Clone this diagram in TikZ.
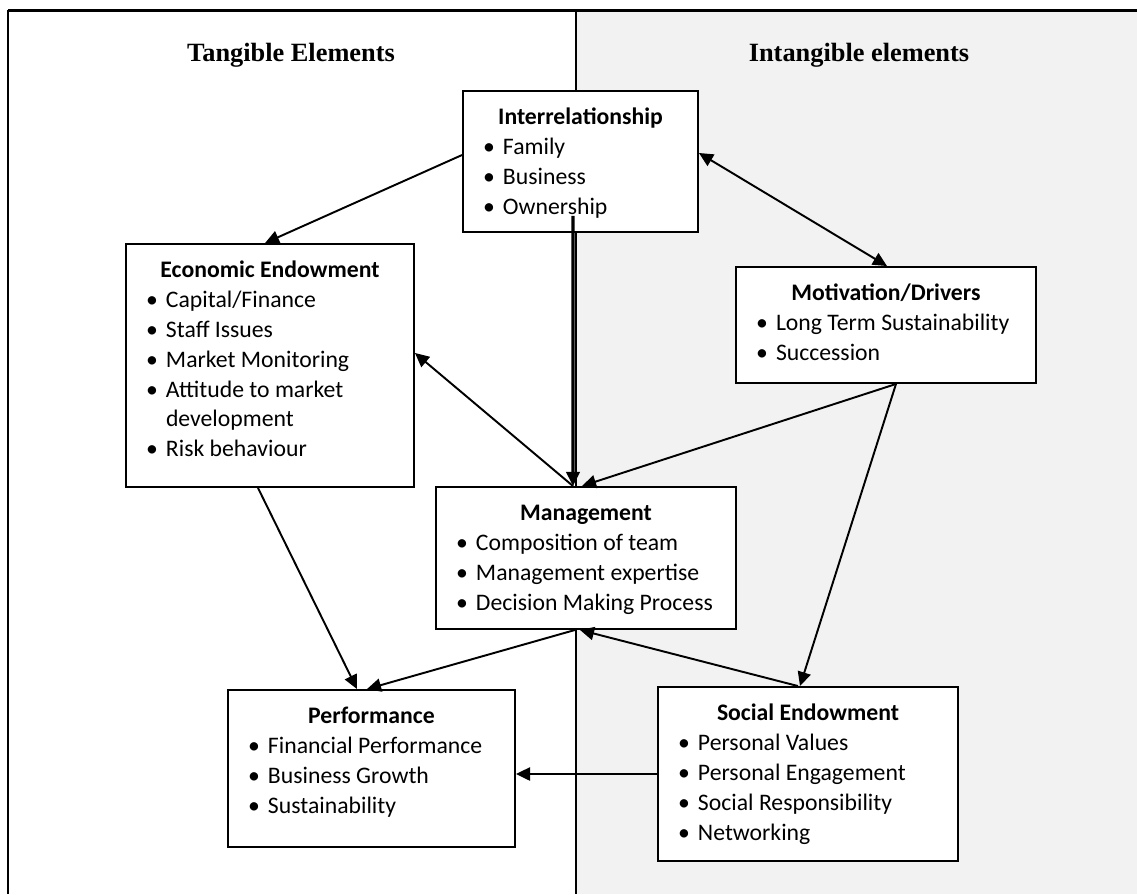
\documentclass[tikz,border=0pt]{standalone}
\usepackage{fontspec}
\setmainfont{Carlito}
\newfontfamily\hdrfont{Liberation Serif}
\usetikzlibrary{arrows.meta,positioning}
\newlength\px
\setlength\px{0.02cm}
\definecolor{bggray}{HTML}{F2F2F2}
\tikzset{font=\fontsize{13.5}{17.07}\selectfont}
\tikzset{factorbox/.style={draw, line width=1.1pt, fill=white, inner sep=0pt}}
\tikzset{link/.style={line width=1.1pt, -{Triangle[length=8pt,width=7.5pt]}}}
\tikzset{heading/.style={font=\hdrfont\bfseries\fontsize{15}{18}\selectfont}}

\newcommand{\factor}[4]{%
  \parbox[c][#2\px][t]{#1\px}{%
    \centering\rule{0pt}{18.8pt}\textbf{#3}\par
    \raggedright\leftskip=20\px #4}}
\newcommand{\itm}[1]{\par\hangindent=20\px\hangafter=1\noindent
  \makebox[20\px][l]{\textbullet}#1}

\begin{document}
\begin{tikzpicture}[x=0.02cm,y=-0.02cm]
  \useasboundingbox (0,0) rectangle (1137,894);
  \fill[bggray] (576,10) rectangle (1137,894);
  \draw[line width=0.6pt] (576,10)--(576,894);
  \draw[line width=1.7pt] (8,10)--(1137,10);
  \draw[line width=1.1pt] (8,10)--(8,894);

  \node[heading] (tang) at (291,55) {Tangible Elements};
  \node[heading] (intang) at (859,55) {Intangible elements};

  \node[factorbox] (interrel) at (580.5,161.5)
    {\factor{235}{141}{Interrelationship}{\itm{Family}\itm{Business}\itm{Ownership}}};
  \node[factorbox] (econ) at (270,365.5)
    {\factor{288}{243}{Economic Endowment}{\itm{Capital/Finance}\itm{Staff Issues}%
      \itm{Market Monitoring}\itm{Attitude to market\newline development}\itm{Risk behaviour}}};
  \node[factorbox] (motiv) at (886,325)
    {\factor{300}{116}{Motivation/Drivers}{\itm{Long Term Sustainability}\itm{Succession}}};
  \node[factorbox] (mgmt) at (586,558)
    {\factor{300}{142}{Management}{\itm{Composition of team}\itm{Management expertise}%
      \itm{Decision Making Process}}};
  \node[factorbox] (perf) at (371.5,768.5)
    {\factor{287}{157}{Performance}{\itm{Financial Performance}\itm{Business Growth}%
      \itm{Sustainability}}};
  \node[factorbox] (social) at (808,774)
    {\factor{300}{174}{Social Endowment}{\itm{Personal Values}\itm{Personal Engagement}%
      \itm{Social Responsibility}\itm{Networking}}};

  % links
  \draw[link] ([yshift=0.13cm]interrel.west) -- ([xshift=-0.1cm]econ.north);
  \draw[link,{Triangle[length=8pt,width=7.5pt]}-{Triangle[length=8pt,width=7.5pt]}]
    ([yshift=0.17cm]interrel.east) -- ([xshift=0.02cm]motiv.north);
  \draw[link,line width=1.8pt] ([xshift=-0.15cm,yshift=0.34cm]interrel.south) -- ([xshift=-0.26cm]mgmt.north);
  \draw[link] ([xshift=-0.26cm]mgmt.north) -- ([yshift=0.25cm]econ.east);
  \draw[link] ([xshift=0.2cm]motiv.south) -- ([xshift=-0.08cm]mgmt.north);
  \draw[link] ([xshift=0.2cm]motiv.south) -- ([xshift=-0.16cm]social.north);
  \draw[link] ([xshift=-0.24cm]econ.south) -- ([xshift=-0.29cm]perf.north);
  \draw[link] ([xshift=-0.22cm]mgmt.south) -- ([xshift=-0.09cm]perf.north);
  \draw[link] ([xshift=-0.2cm]social.north) -- ([xshift=-0.12cm]mgmt.south);
  \draw[link] (social.west) -- (social.west -| perf.east);
\end{tikzpicture}
\end{document}
